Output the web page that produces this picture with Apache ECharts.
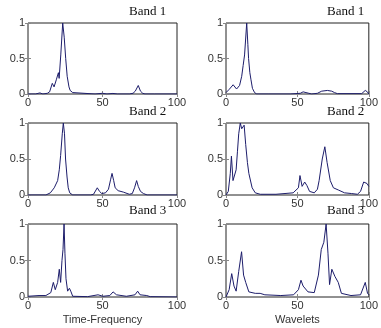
<!DOCTYPE html>
<html><head><meta charset="utf-8">
<script src="https://cdn.jsdelivr.net/npm/echarts@6/dist/echarts.min.js"></script>
<style>html,body{margin:0;padding:0;background:#fff}#c{width:381px;height:328px}</style>
</head><body><div id="c"></div>
<script>
var panelTitles = ['Band 1', 'Band 1', 'Band 2', 'Band 2', 'Band 3', 'Band 3'];
var xAxisNames = ['Time-Frequency', 'Wavelets'];
var xTicks = [0, 50, 100];
var yTicks = [0, 0.5, 1];

var tfBand1X = [0, 5, 8, 10, 13, 14.5, 16.3, 17.5, 19, 20.4, 20.9, 22, 23.3, 24.3, 25.3, 26.3, 27.5, 28.3, 29, 30, 31, 45, 50, 53, 57, 60, 68, 70.5, 72, 74, 75.5, 77, 78.5, 85, 100];
var tfBand1Y = [0, 0, 0.015, 0, 0.01, 0.03, 0.15, 0.1, 0.2, 0.3, 0.22, 0.55, 1.0, 0.8, 0.5, 0.25, 0.1, 0.05, 0.06, 0.02, 0, 0, 0.01, 0, 0.008, 0, 0, 0.01, 0.04, 0.12, 0.04, 0.01, 0, 0, 0];

var wlBand1X = [0, 2, 5, 7.4, 9.5, 11, 12, 13, 14.5, 15.3, 15.8, 16.7, 17.5, 18.5, 20, 21.5, 30, 45, 52, 54, 56, 58, 60, 64, 67, 71, 74, 76, 78, 95, 97.5, 99, 100];
var wlBand1Y = [0.02, 0.06, 0.13, 0.07, 0.12, 0.25, 0.4, 0.55, 1.0, 0.7, 0.5, 0.3, 0.2, 0.08, 0.02, 0, 0, 0, 0.01, 0.03, 0.02, 0.01, 0, 0.01, 0.04, 0.05, 0.04, 0.02, 0.005, 0.005, 0.05, 0.03, 0];

var tfBand2X = [0, 12, 15, 17.6, 19.9, 21, 21.9, 23, 23.7, 24.5, 25.2, 26.2, 27, 28, 30, 42, 44, 46.5, 48, 49.5, 52, 54, 55.5, 56.4, 57.5, 58.5, 60.5, 64, 68, 70, 71.5, 72.9, 74, 75.5, 77.5, 80, 100];
var tfBand2Y = [0, 0, 0.03, 0.1, 0.2, 0.35, 0.55, 0.85, 1.0, 0.85, 0.5, 0.25, 0.1, 0.03, 0, 0, 0.01, 0.1, 0.05, 0.02, 0.03, 0.08, 0.22, 0.3, 0.2, 0.1, 0.06, 0.04, 0.01, 0.02, 0.1, 0.2, 0.12, 0.05, 0.02, 0, 0];

var wlBand2X = [0, 1.6, 3, 3.8, 4.9, 6, 7.1, 8, 8.9, 10, 11, 11.6, 12.7, 13.8, 15, 16, 18.3, 20.5, 24, 35, 47, 50.7, 51.8, 53.3, 55.1, 56.7, 58.5, 61.8, 64, 65.2, 67.4, 69.2, 70.8, 73, 75.2, 78.6, 83, 88, 92, 94.2, 96.4, 98.7, 100];
var wlBand2Y = [0, 0.05, 0.3, 0.54, 0.2, 0.22, 0.35, 0.6, 0.85, 1.0, 0.92, 0.9, 0.97, 0.7, 0.45, 0.3, 0.1, 0.03, 0.01, 0.01, 0.03, 0.1, 0.27, 0.12, 0.18, 0.13, 0.05, 0.03, 0.08, 0.2, 0.5, 0.67, 0.45, 0.2, 0.1, 0.07, 0.03, 0.02, 0.01, 0.05, 0.18, 0.16, 0.12];

var tfBand3X = [0, 7.4, 12, 15.3, 17, 18.3, 19.9, 21, 21.9, 22.8, 23.5, 24.2, 24.8, 25.5, 26.6, 27.8, 28.9, 30, 40, 47, 50.3, 54.9, 57.1, 59.4, 66, 71.8, 73.6, 75.2, 79.7, 82, 100];
var tfBand3Y = [0.01, 0.02, 0.02, 0.06, 0.2, 0.1, 0.2, 0.38, 0.2, 0.5, 0.65, 1.0, 0.6, 0.25, 0.08, 0.12, 0.07, 0.01, 0.005, 0.03, 0.01, 0.02, 0.07, 0.03, 0.01, 0.03, 0.08, 0.03, 0.02, 0.005, 0];

var wlBand3X = [0, 2.2, 4, 5.6, 7.1, 8.9, 10.9, 12.3, 13.8, 16, 20.5, 23.9, 27.2, 38.4, 47.3, 50.7, 52.5, 54, 57.4, 61.8, 64.7, 66.7, 68.5, 70.1, 71.4, 72.5, 74.1, 76.3, 78.6, 80.8, 87.5, 94.2, 97.5, 99.1, 100];
var wlBand3Y = [0, 0.1, 0.32, 0.15, 0.08, 0.35, 0.62, 0.3, 0.2, 0.07, 0.05, 0.05, 0.03, 0.02, 0.03, 0.1, 0.23, 0.15, 0.07, 0.06, 0.3, 0.65, 0.75, 1.0, 0.6, 0.17, 0.38, 0.28, 0.2, 0.05, 0.02, 0.03, 0.2, 0.05, 0.03];

var panelsX = [tfBand1X, wlBand1X, tfBand2X, wlBand2X, tfBand3X, wlBand3X];
var panelsY = [tfBand1Y, wlBand1Y, tfBand2Y, wlBand2Y, tfBand3Y, wlBand3Y];

var colLeft = [28, 226];
var colWidth = 149;
var rowTop = [23, 123, 224];
var rowHeight = [71, 72, 73];
var titleLeft = [129, 327];
var titleTop = [5, 105, 204];

var lineColor = '#1d1d6b';
var frameColor = '#222';
var labelFont = {fontFamily: 'Liberation Sans', fontSize: 11, color: '#333'};

var grids = [], xAxes = [], yAxes = [], series = [], titles = [];
for (var i = 0; i < 6; i++) {
  var r = Math.floor(i / 2), c = i % 2;
  grids.push({left: colLeft[c], top: rowTop[r], width: colWidth, height: rowHeight[r],
    show: true, borderColor: frameColor, borderWidth: 1, backgroundColor: '#fff'});
  var pairs = panelsX[i].map(function (x, k) { return [x, panelsY[i][k]]; });
  // bottom x axis
  xAxes.push({type: 'value', gridIndex: i, min: xTicks[0], max: xTicks[2], interval: 50,
    position: 'bottom',
    axisLine: {show: false}, splitLine: {show: false},
    axisTick: {show: true, inside: true, length: 3, lineStyle: {color: '#888'}},
    axisLabel: Object.assign({margin: 3}, labelFont),
    name: r === 2 ? xAxisNames[c] : '', nameLocation: 'middle', nameGap: 17,
    nameTextStyle: labelFont});
  // top x axis (ticks only)
  xAxes.push({type: 'value', gridIndex: i, min: xTicks[0], max: xTicks[2], interval: 50,
    position: 'top', axisLine: {show: false}, splitLine: {show: false},
    axisTick: {show: true, inside: true, length: 3, lineStyle: {color: '#888'}},
    axisLabel: {show: false}});
  yAxes.push({type: 'value', gridIndex: i, min: yTicks[0], max: yTicks[2], interval: 0.5,
    position: 'left', axisLine: {show: false}, splitLine: {show: false},
    axisTick: {show: true, inside: true, length: 3, lineStyle: {color: '#888'}},
    axisLabel: Object.assign({margin: 3}, labelFont)});
  yAxes.push({type: 'value', gridIndex: i, min: yTicks[0], max: yTicks[2], interval: 0.5,
    position: 'right', axisLine: {show: false}, splitLine: {show: false},
    axisTick: {show: true, inside: true, length: 3, lineStyle: {color: '#888'}},
    axisLabel: {show: false}});
  series.push({type: 'line', xAxisIndex: 2 * i, yAxisIndex: 2 * i, data: pairs,
    showSymbol: false, symbol: 'none', animation: false,
    lineStyle: {color: lineColor, width: 1}, z: 3});
  titles.push({text: panelTitles[i], left: titleLeft[c], top: titleTop[r], padding: 0,
    textStyle: {fontFamily: 'Liberation Serif', fontSize: 13, fontWeight: 'normal', color: '#111'}});
}

var chart = echarts.init(document.getElementById('c'), null, {renderer: 'canvas'});
chart.setOption({
  backgroundColor: '#fff',
  animation: false,
  title: titles,
  grid: grids,
  xAxis: xAxes,
  yAxis: yAxes,
  series: series
});
</script>
</body></html>
